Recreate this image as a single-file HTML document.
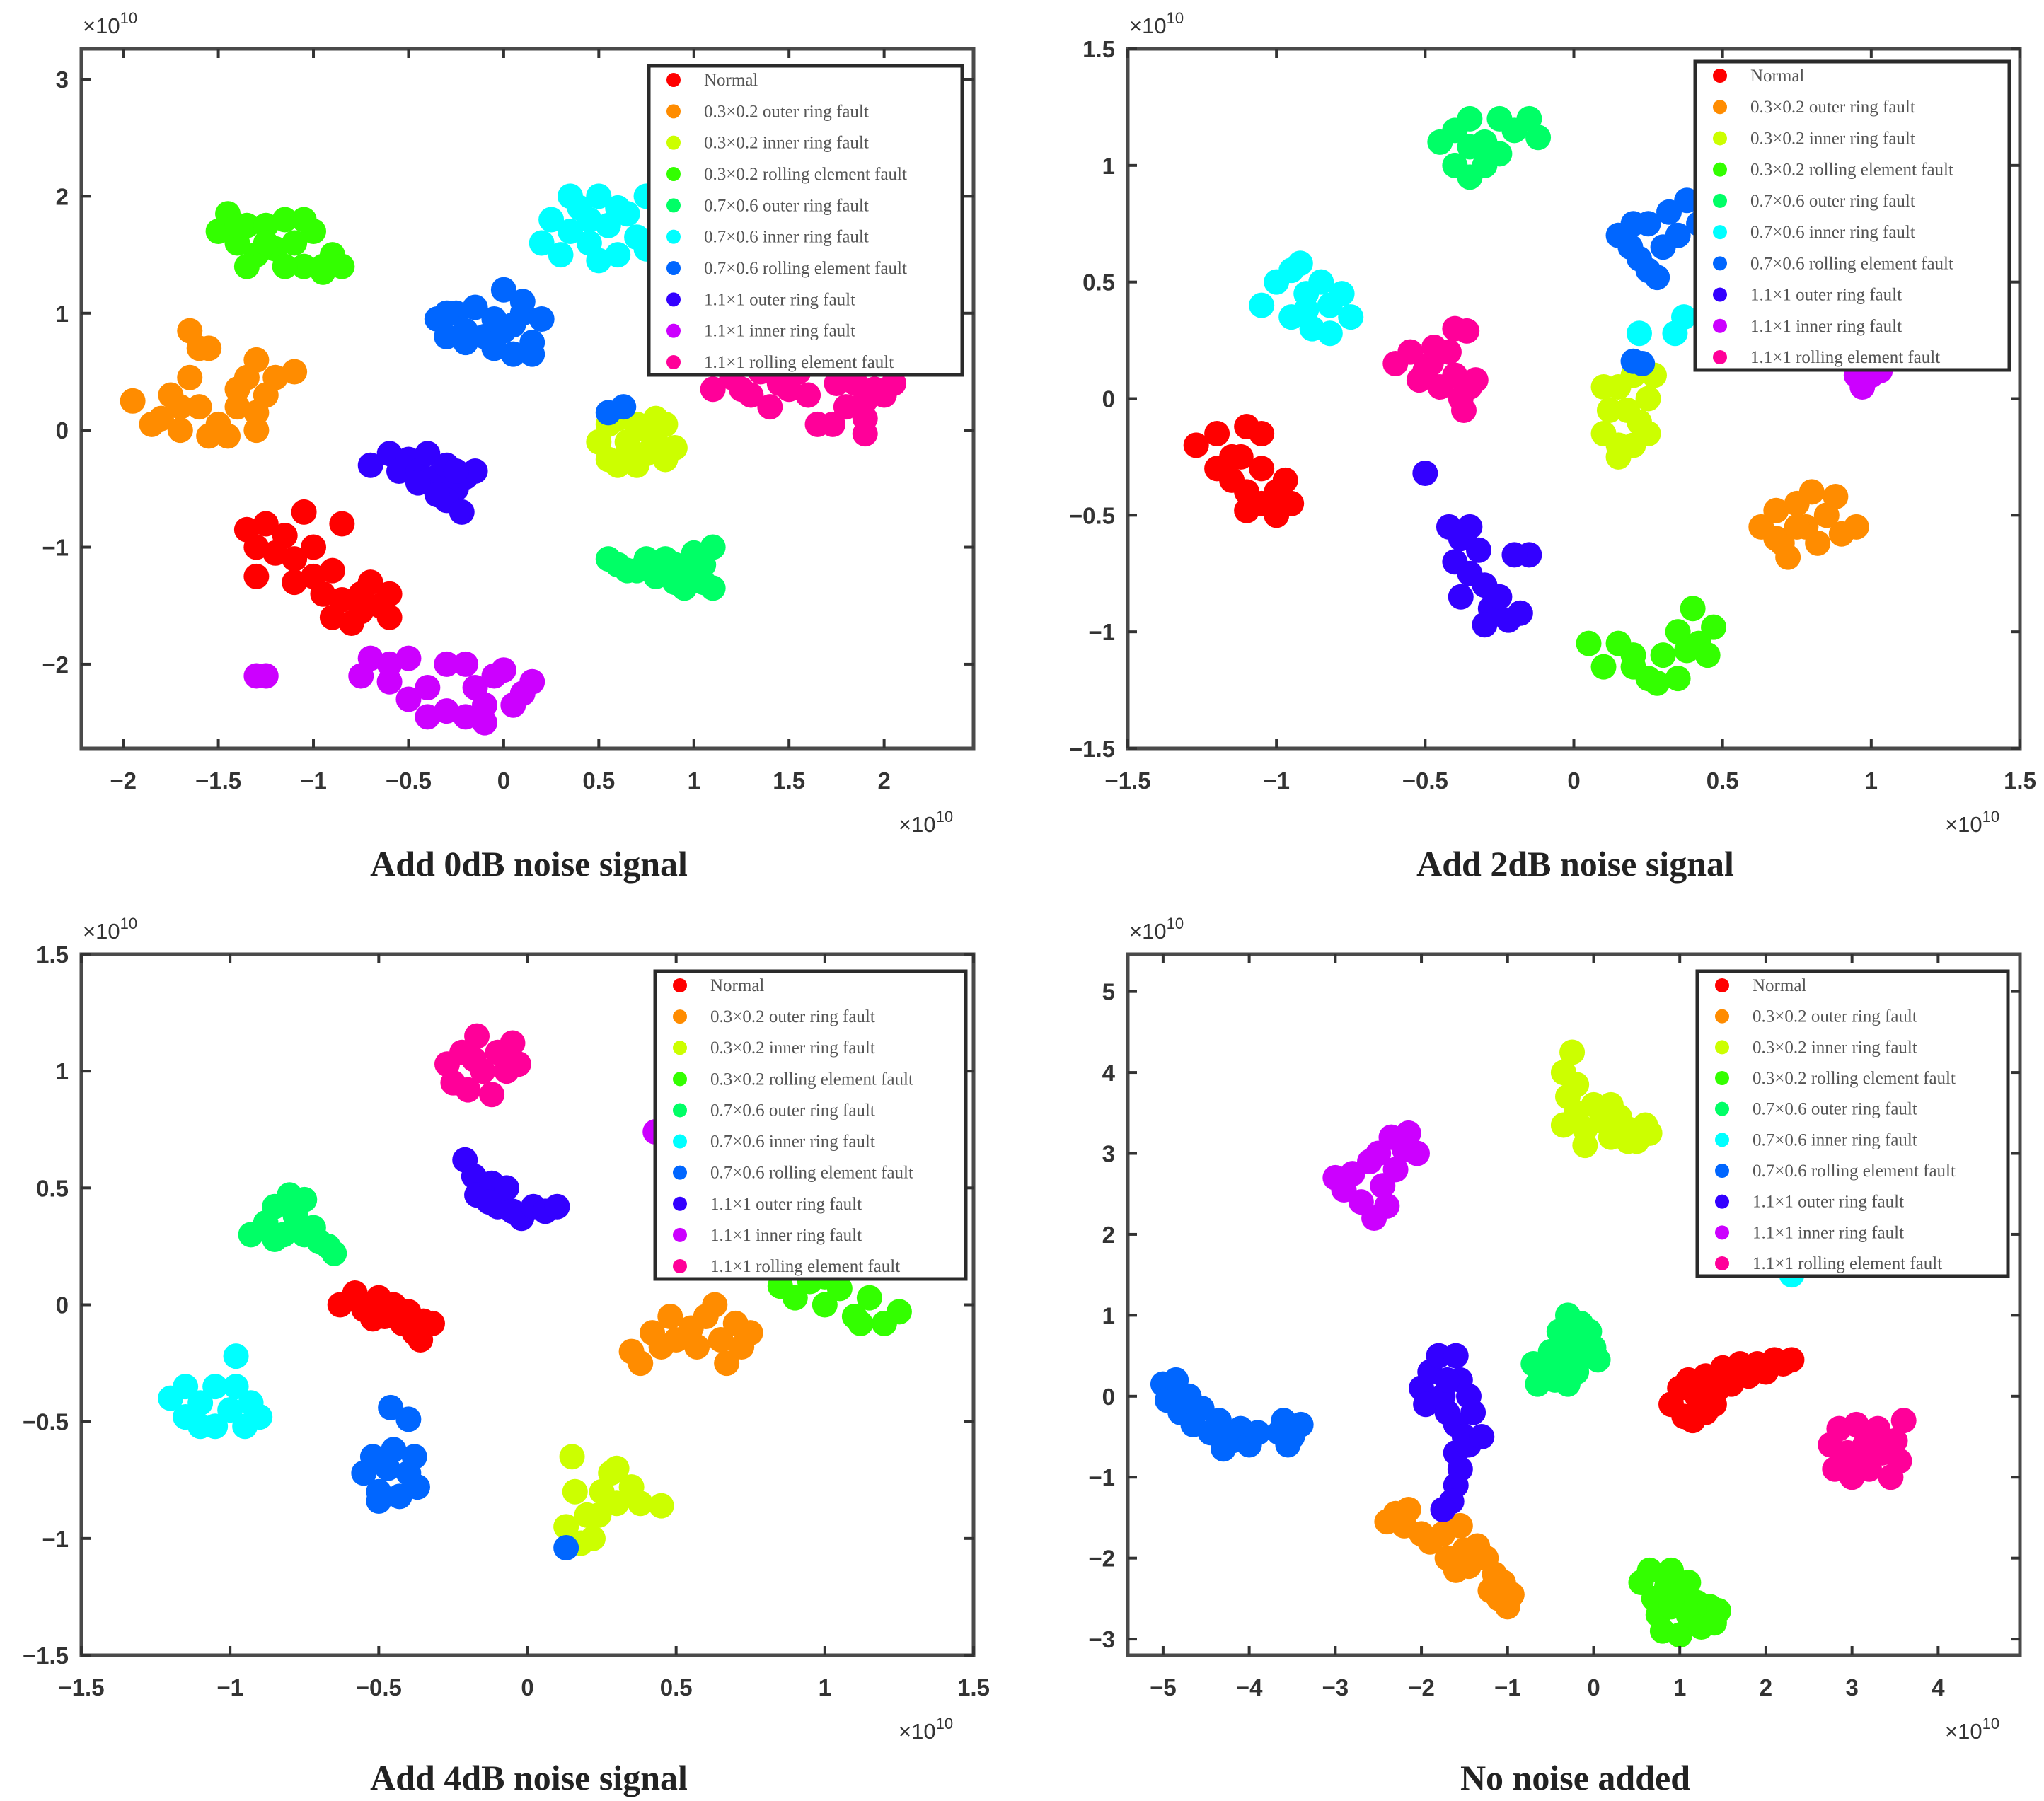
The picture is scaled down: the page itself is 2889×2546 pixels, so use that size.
<!DOCTYPE html>
<html><head><meta charset="utf-8"><style>
html,body{margin:0;padding:0;background:#fff;}
svg{display:block;}
</style></head><body>
<svg id="chart" width="2889" height="2546" viewBox="0 0 2889 2546" xmlns="http://www.w3.org/2000/svg"></svg>
<script>
const categories = ["Normal","0.3×0.2 outer ring fault","0.3×0.2 inner ring fault","0.3×0.2 rolling element fault","0.7×0.6 outer ring fault","0.7×0.6 inner ring fault","0.7×0.6 rolling element fault","1.1×1 outer ring fault","1.1×1 inner ring fault","1.1×1 rolling element fault"];
const colors = ["#ff0000","#ff8c00","#ccff00","#33ff00","#00ff66","#00ffff","#0066ff","#3300ff","#cc00ff","#ff0099"];
const titles = ["Add 0dB noise signal","Add 2dB noise signal","Add 4dB noise signal","No noise added"];
const xTicks1 = [-2,-1.5,-1,-0.5,0,0.5,1,1.5,2];
const yTicks1 = [-2,-1,0,1,2,3];
const xTicks2 = [-1.5,-1,-0.5,0,0.5,1,1.5];
const yTicks2 = [-1.5,-1,-0.5,0,0.5,1,1.5];
const xTicks4 = [-5,-4,-3,-2,-1,0,1,2,3,4];
const yTicks4 = [-3,-2,-1,0,1,2,3,4,5];

const p1Points = [
 [[-1.35,-0.85],[-1.25,-0.8],[-1.15,-0.9],[-1.3,-1.0],[-1.2,-1.05],[-1.1,-1.1],[-1.05,-0.7],[-0.85,-0.8],[-1.0,-1.25],[-1.1,-1.3],[-0.95,-1.4],[-0.85,-1.45],[-0.75,-1.55],[-0.65,-1.5],[-0.6,-1.6],[-0.8,-1.65],[-0.7,-1.3],[-0.9,-1.2],[-1.3,-1.25],[-0.9,-1.6],[-0.6,-1.4],[-1.0,-1.0],[-0.75,-1.4]],
 [[-1.95,0.25],[-1.8,0.1],[-1.7,0.0],[-1.75,0.3],[-1.65,0.45],[-1.6,0.7],[-1.65,0.85],[-1.55,0.7],[-1.6,0.2],[-1.5,0.05],[-1.4,0.2],[-1.35,0.45],[-1.3,0.6],[-1.25,0.3],[-1.2,0.45],[-1.1,0.5],[-1.45,-0.05],[-1.55,-0.05],[-1.3,0.0],[-1.4,0.35],[-1.85,0.05],[-1.7,0.2],[-1.3,0.15]],
 [[0.5,-0.1],[0.55,0.05],[0.6,-0.3],[0.65,-0.1],[0.7,0.05],[0.75,-0.2],[0.8,-0.1],[0.85,0.05],[0.9,-0.15],[0.55,-0.25],[0.7,-0.3],[0.8,0.1],[0.6,0.1],[0.85,-0.25],[0.65,-0.2],[0.75,0.0]],
 [[-1.5,1.7],[-1.45,1.85],[-1.4,1.6],[-1.35,1.75],[-1.3,1.5],[-1.25,1.75],[-1.2,1.55],[-1.15,1.8],[-1.1,1.6],[-1.05,1.4],[-1.0,1.7],[-0.95,1.4],[-0.9,1.5],[-0.85,1.4],[-1.15,1.4],[-1.35,1.4],[-1.05,1.8],[-0.95,1.35],[-1.25,1.6],[-1.4,1.75]],
 [[0.55,-1.1],[0.6,-1.15],[0.7,-1.2],[0.75,-1.1],[0.8,-1.25],[0.85,-1.1],[0.9,-1.3],[0.95,-1.2],[1.0,-1.05],[1.05,-1.3],[1.1,-1.0],[1.1,-1.35],[0.95,-1.35],[1.05,-1.15],[0.65,-1.2],[0.9,-1.15]],
 [[0.2,1.6],[0.25,1.8],[0.3,1.5],[0.35,1.7],[0.4,1.9],[0.45,1.6],[0.5,2.0],[0.55,1.75],[0.6,1.5],[0.65,1.85],[0.7,1.65],[0.75,2.0],[0.35,2.0],[0.5,1.45],[0.75,1.55],[0.45,1.8],[0.6,1.9]],
 [[-0.35,0.95],[-0.3,0.8],[-0.25,1.0],[-0.2,0.85],[-0.15,1.05],[-0.1,0.8],[-0.05,0.95],[0.0,1.2],[0.05,0.9],[0.1,1.0],[0.15,0.75],[0.2,0.95],[0.05,0.65],[0.15,0.65],[-0.05,0.7],[-0.3,1.0],[0.1,1.1],[0.0,0.85],[-0.2,0.75],[0.55,0.15],[0.63,0.2]],
 [[-0.7,-0.3],[-0.6,-0.2],[-0.55,-0.35],[-0.5,-0.25],[-0.45,-0.35],[-0.4,-0.2],[-0.35,-0.4],[-0.3,-0.3],[-0.25,-0.5],[-0.3,-0.6],[-0.2,-0.4],[-0.22,-0.7],[-0.35,-0.55],[-0.45,-0.45],[-0.15,-0.35],[-0.25,-0.35]],
 [[-1.3,-2.1],[-1.25,-2.1],[-0.75,-2.1],[-0.7,-1.95],[-0.6,-2.15],[-0.5,-1.95],[-0.5,-2.3],[-0.4,-2.2],[-0.4,-2.45],[-0.3,-2.4],[-0.3,-2.0],[-0.2,-2.0],[-0.15,-2.2],[-0.1,-2.35],[-0.05,-2.1],[0.0,-2.05],[0.1,-2.25],[0.15,-2.15],[-0.2,-2.45],[-0.1,-2.5],[0.05,-2.35],[-0.6,-2.0]],
 [[1.1,0.35],[1.2,0.45],[1.3,0.3],[1.35,0.5],[1.4,0.2],[1.5,0.35],[1.55,0.5],[1.6,0.3],[1.75,0.4],[1.8,0.2],[1.85,0.4],[1.9,0.25],[1.95,0.35],[2.0,0.3],[1.9,0.1],[2.05,0.4],[1.65,0.05],[1.73,0.05],[1.9,-0.03],[1.45,0.4],[1.25,0.35]]
];
const p2Points = [
 [[-1.27,-0.2],[-1.2,-0.15],[-1.15,-0.25],[-1.1,-0.12],[-1.05,-0.15],[-1.15,-0.35],[-1.1,-0.4],[-1.05,-0.3],[-1.0,-0.4],[-0.95,-0.45],[-1.1,-0.48],[-1.0,-0.5],[-1.2,-0.3],[-1.05,-0.45],[-0.97,-0.35],[-1.12,-0.25]],
 [[0.63,-0.55],[0.68,-0.48],[0.7,-0.62],[0.75,-0.45],[0.78,-0.55],[0.8,-0.4],[0.85,-0.5],[0.88,-0.42],[0.9,-0.58],[0.95,-0.55],[0.72,-0.68],[0.82,-0.62],[0.68,-0.6],[0.75,-0.55]],
 [[0.1,-0.15],[0.12,-0.05],[0.15,0.05],[0.15,-0.2],[0.2,0.1],[0.22,-0.1],[0.25,0.0],[0.2,-0.2],[0.1,0.05],[0.27,0.1],[0.15,-0.25],[0.25,-0.15],[0.18,-0.05]],
 [[0.05,-1.05],[0.1,-1.15],[0.15,-1.05],[0.2,-1.1],[0.25,-1.2],[0.3,-1.1],[0.35,-1.0],[0.35,-1.2],[0.4,-0.9],[0.42,-1.05],[0.47,-0.98],[0.45,-1.1],[0.2,-1.15],[0.28,-1.22],[0.38,-1.08]],
 [[-0.45,1.1],[-0.4,1.15],[-0.4,1.0],[-0.35,1.2],[-0.35,0.95],[-0.3,1.1],[-0.25,1.2],[-0.25,1.05],[-0.2,1.15],[-0.15,1.2],[-0.12,1.12],[-0.3,1.0],[-0.35,1.08]],
 [[-1.05,0.4],[-1.0,0.5],[-0.95,0.35],[-0.95,0.55],[-0.9,0.45],[-0.88,0.3],[-0.85,0.5],[-0.82,0.4],[-0.78,0.45],[-0.75,0.35],[-0.82,0.28],[-0.92,0.58],[-0.9,0.38],[0.22,0.28],[0.34,0.28],[0.37,0.35]],
 [[0.15,0.7],[0.2,0.75],[0.22,0.6],[0.25,0.55],[0.25,0.75],[0.3,0.65],[0.32,0.8],[0.35,0.7],[0.38,0.85],[0.42,0.75],[0.19,0.65],[0.28,0.52],[0.2,0.16],[0.23,0.15]],
 [[-0.5,-0.32],[-0.42,-0.55],[-0.38,-0.6],[-0.4,-0.7],[-0.35,-0.75],[-0.32,-0.65],[-0.3,-0.8],[-0.28,-0.9],[-0.25,-0.85],[-0.22,-0.95],[-0.18,-0.92],[-0.3,-0.97],[-0.35,-0.55],[-0.15,-0.67],[-0.2,-0.67],[-0.38,-0.85]],
 [[0.95,0.1],[1.0,0.1],[0.97,0.05],[1.03,0.12]],
 [[-0.6,0.15],[-0.55,0.2],[-0.52,0.08],[-0.48,0.15],[-0.45,0.05],[-0.42,0.2],[-0.4,0.1],[-0.38,0.0],[-0.35,0.05],[-0.33,0.08],[-0.4,0.3],[-0.36,0.29],[-0.47,0.22],[-0.37,-0.05],[-0.5,0.12]]
];
const p3Points = [
 [[-0.63,0.0],[-0.58,0.05],[-0.55,-0.02],[-0.5,0.03],[-0.48,-0.05],[-0.45,0.0],[-0.42,-0.08],[-0.4,-0.03],[-0.38,-0.12],[-0.35,-0.07],[-0.32,-0.08],[-0.36,-0.15],[-0.52,-0.06]],
 [[0.35,-0.2],[0.38,-0.25],[0.42,-0.12],[0.48,-0.05],[0.5,-0.15],[0.55,-0.1],[0.6,-0.05],[0.63,0.0],[0.65,-0.15],[0.7,-0.08],[0.75,-0.12],[0.67,-0.25],[0.57,-0.18],[0.45,-0.18],[0.72,-0.18]],
 [[0.15,-0.65],[0.13,-0.95],[0.16,-0.8],[0.2,-0.9],[0.22,-1.0],[0.25,-0.8],[0.28,-0.72],[0.3,-0.85],[0.35,-0.78],[0.38,-0.85],[0.45,-0.86],[0.18,-1.02],[0.3,-0.7],[0.24,-0.9]],
 [[0.85,0.08],[0.9,0.03],[0.95,0.1],[1.0,0.0],[1.05,0.07],[1.1,-0.05],[1.15,0.03],[1.2,-0.08],[1.25,-0.03],[1.12,-0.08],[1.0,0.12]],
 [[-0.93,0.3],[-0.88,0.35],[-0.85,0.42],[-0.82,0.3],[-0.8,0.47],[-0.78,0.38],[-0.75,0.45],[-0.75,0.3],[-0.72,0.33],[-0.7,0.27],[-0.67,0.25],[-0.65,0.22],[-0.85,0.28]],
 [[-1.2,-0.4],[-1.15,-0.35],[-1.15,-0.48],[-1.1,-0.42],[-1.05,-0.52],[-1.05,-0.35],[-1.0,-0.45],[-0.98,-0.35],[-0.95,-0.52],[-0.93,-0.42],[-0.9,-0.48],[-0.98,-0.22],[-1.1,-0.52]],
 [[-0.55,-0.72],[-0.52,-0.65],[-0.5,-0.8],[-0.47,-0.7],[-0.45,-0.62],[-0.43,-0.82],[-0.4,-0.72],[-0.37,-0.78],[-0.38,-0.65],[-0.5,-0.84],[-0.46,-0.44],[-0.4,-0.49],[0.13,-1.04]],
 [[-0.21,0.62],[-0.18,0.55],[-0.17,0.47],[-0.12,0.52],[-0.1,0.42],[-0.07,0.5],[-0.05,0.4],[-0.02,0.37],[0.02,0.42],[0.06,0.4],[0.1,0.42],[-0.13,0.44]],
 [[0.43,0.74]],
 [[-0.27,1.03],[-0.25,0.95],[-0.22,1.08],[-0.2,0.92],[-0.17,1.15],[-0.15,1.0],[-0.12,0.9],[-0.1,1.08],[-0.07,1.0],[-0.05,1.12],[-0.03,1.03],[-0.18,1.05]]
];
const p4Points = [
 [[0.9,-0.1],[1.0,0.1],[1.05,-0.25],[1.1,0.2],[1.2,0.0],[1.3,-0.2],[1.3,0.25],[1.45,0.1],[1.5,0.35],[1.6,0.15],[1.7,0.4],[1.8,0.25],[1.9,0.4],[2.0,0.3],[2.1,0.45],[2.2,0.4],[2.3,0.45],[1.4,-0.1],[1.15,-0.3]],
 [[-2.4,-1.55],[-2.3,-1.45],[-2.2,-1.6],[-2.15,-1.4],[-2.0,-1.7],[-1.9,-1.8],[-1.75,-1.7],[-1.7,-2.0],[-1.55,-1.6],[-1.5,-1.9],[-1.45,-2.1],[-1.35,-1.85],[-1.25,-2.0],[-1.15,-2.2],[-1.05,-2.3],[-0.95,-2.45],[-1.1,-2.5],[-1.0,-2.6],[-1.2,-2.4],[-1.6,-2.15]],
 [[-0.35,4.0],[-0.25,4.25],[-0.3,3.7],[-0.2,3.85],[-0.35,3.35],[-0.2,3.5],[-0.1,3.3],[0.0,3.6],[0.1,3.4],[0.2,3.2],[0.3,3.45],[0.4,3.3],[0.5,3.15],[0.6,3.35],[0.65,3.25],[0.2,3.6],[-0.1,3.1],[0.4,3.15]],
 [[0.55,-2.3],[0.65,-2.15],[0.7,-2.5],[0.75,-2.7],[0.8,-2.9],[0.85,-2.35],[0.9,-2.6],[1.0,-2.95],[1.0,-2.45],[1.1,-2.3],[1.1,-2.7],[1.2,-2.55],[1.25,-2.85],[1.35,-2.6],[1.45,-2.65],[1.4,-2.8],[0.9,-2.15]],
 [[-0.7,0.4],[-0.65,0.15],[-0.55,0.3],[-0.5,0.55],[-0.45,0.2],[-0.4,0.8],[-0.35,0.4],[-0.3,1.0],[-0.25,0.65],[-0.2,0.3],[-0.15,0.9],[-0.1,0.55],[0.0,0.6],[0.05,0.45],[-0.05,0.8],[-0.3,0.15]],
 [[2.3,1.5]],
 [[-5.0,0.15],[-4.95,-0.05],[-4.85,0.2],[-4.8,-0.2],[-4.7,0.0],[-4.65,-0.35],[-4.55,-0.15],[-4.45,-0.45],[-4.35,-0.3],[-4.2,-0.55],[-4.1,-0.4],[-4.0,-0.6],[-3.9,-0.45],[-3.6,-0.3],[-3.5,-0.5],[-3.4,-0.35],[-3.55,-0.6],[-3.65,-0.45],[-4.3,-0.65]],
 [[-2.0,0.1],[-1.95,-0.1],[-1.9,0.3],[-1.8,0.5],[-1.75,0.0],[-1.7,-0.2],[-1.6,0.5],[-1.55,0.2],[-1.45,0.0],[-1.4,-0.2],[-1.6,-0.35],[-1.5,-0.5],[-1.6,-0.7],[-1.45,-0.6],[-1.55,-0.9],[-1.6,-1.1],[-1.65,-1.3],[-1.75,-1.4],[-1.3,-0.5],[-1.7,0.2]],
 [[-3.0,2.7],[-2.9,2.55],[-2.8,2.75],[-2.7,2.4],[-2.6,2.9],[-2.55,2.2],[-2.5,3.0],[-2.45,2.6],[-2.35,3.2],[-2.3,2.8],[-2.2,3.05],[-2.15,3.25],[-2.05,3.0],[-2.4,2.35]],
 [[2.75,-0.6],[2.8,-0.9],[2.85,-0.4],[2.95,-0.7],[3.0,-1.0],[3.05,-0.35],[3.15,-0.6],[3.2,-0.9],[3.3,-0.4],[3.35,-0.7],[3.45,-1.0],[3.5,-0.55],[3.6,-0.3],[3.55,-0.8],[3.1,-0.85]]
];

const NS = "http://www.w3.org/2000/svg";
const svg = document.getElementById('chart');
const SANS = 'font-family:"Liberation Sans",sans-serif';
const SERIF = 'font-family:"Liberation Serif",serif';
function mk(tag, attrs, parent){
  const e = document.createElementNS(NS, tag);
  for (const k in attrs) e.setAttribute(k, attrs[k]);
  (parent||svg).appendChild(e);
  return e;
}
const panels = [
 {L:115,R:1376,T:69,B:1058,x0:-2.22,x1:2.47,y0:-2.72,y1:3.26,xt:xTicks1,yt:yTicks1,pts:p1Points,leg:[917,93,1360,530],ty:1246},
 {L:1594,R:2855,T:69,B:1058,x0:-1.5,x1:1.5,y0:-1.5,y1:1.5,xt:xTicks2,yt:yTicks2,pts:p2Points,leg:[2396,87,2840,523],ty:1246},
 {L:115,R:1376,T:1349,B:2340,x0:-1.5,x1:1.5,y0:-1.5,y1:1.5,xt:xTicks2,yt:yTicks2,pts:p3Points,leg:[926,1373,1365,1808],ty:2538},
 {L:1594,R:2855,T:1349,B:2340,x0:-5.41,x1:4.95,y0:-3.2,y1:5.46,xt:xTicks4,yt:yTicks4,pts:p4Points,leg:[2399,1373,2838,1804],ty:2538}
];
function fmt(v){ return (v<0?"\u2212":"")+String(Math.abs(v)); }
panels.forEach((p,pi)=>{
  const g = mk('g',{});
  
  
  const sx = v => p.L + (v-p.x0)/(p.x1-p.x0)*(p.R-p.L);
  const sy = v => p.B - (v-p.y0)/(p.y1-p.y0)*(p.B-p.T);
  const pg = mk('g',{},g);
  
  
  p.pts.forEach((cls,ci)=>{
    cls.forEach(pt=>{
      const c = mk('circle',{cx:sx(pt[0]),cy:sy(pt[1]),r:18,fill:colors[ci]},pg);
      
      
    });
  });
  const fr = mk('rect',{x:p.L,y:p.T,width:p.R-p.L,height:p.B-p.T,fill:'none',stroke:'#4a4a4a','stroke-width':5},g);
  
  
  p.xt.forEach(v=>{
    const x = sx(v);
    mk('line',{x1:x,x2:x,y1:p.B,y2:p.B-13,stroke:'#333','stroke-width':4},g);
    mk('line',{x1:x,x2:x,y1:p.T,y2:p.T+13,stroke:'#333','stroke-width':4},g);
    const t = mk('text',{x:x,y:p.B+57,'font-size':33,'text-anchor':'middle',fill:'#333','font-weight':'bold',style:SANS},g);
    t.textContent = fmt(v);
    
    
  });
  p.yt.forEach(v=>{
    const y = sy(v);
    mk('line',{x1:p.L,x2:p.L+13,y1:y,y2:y,stroke:'#333','stroke-width':4},g);
    mk('line',{x1:p.R,x2:p.R-13,y1:y,y2:y,stroke:'#333','stroke-width':4},g);
    const t = mk('text',{x:p.L-18,y:y+12,'font-size':33,'text-anchor':'end',fill:'#333','font-weight':'bold',style:SANS},g);
    t.textContent = fmt(v);
    
    
  });
  const e1 = mk('text',{x:p.L+2,y:p.T-22,'font-size':31,fill:'#333',style:SANS},g);
  e1.innerHTML = '×10<tspan dy="-14" font-size="22">10</tspan>';
  
  
  const e2 = mk('text',{x:p.R-106,y:p.B+118,'font-size':31,fill:'#333',style:SANS},g);
  e2.innerHTML = '×10<tspan dy="-14" font-size="22">10</tspan>';
  
  
  const tt = mk('text',{x:(p.L+p.R)/2+2,y:p.ty-8,'font-size':50,'font-weight':'bold','text-anchor':'middle',fill:'#222',style:SERIF},g);
  tt.textContent = titles[pi];
  
  
  const [lx,ly,lr,lb] = p.leg;
  const lg = mk('g',{},g);
  
  
  mk('rect',{x:lx,y:ly,width:lr-lx,height:lb-ly,fill:'#fff',stroke:'#2a2a2a','stroke-width':5},lg);
  const step = (lb-ly-38)/9;
  categories.forEach((name,ci)=>{
    const y = ly+20+ci*step;
    const m = mk('circle',{cx:lx+35,cy:y,r:10,fill:colors[ci]},lg);
    
    
    const t = mk('text',{x:lx+78,y:y+8,'font-size':25,fill:'#555',style:SERIF},lg);
    t.textContent = name;
    
    
  });
});
</script>
</body></html>
